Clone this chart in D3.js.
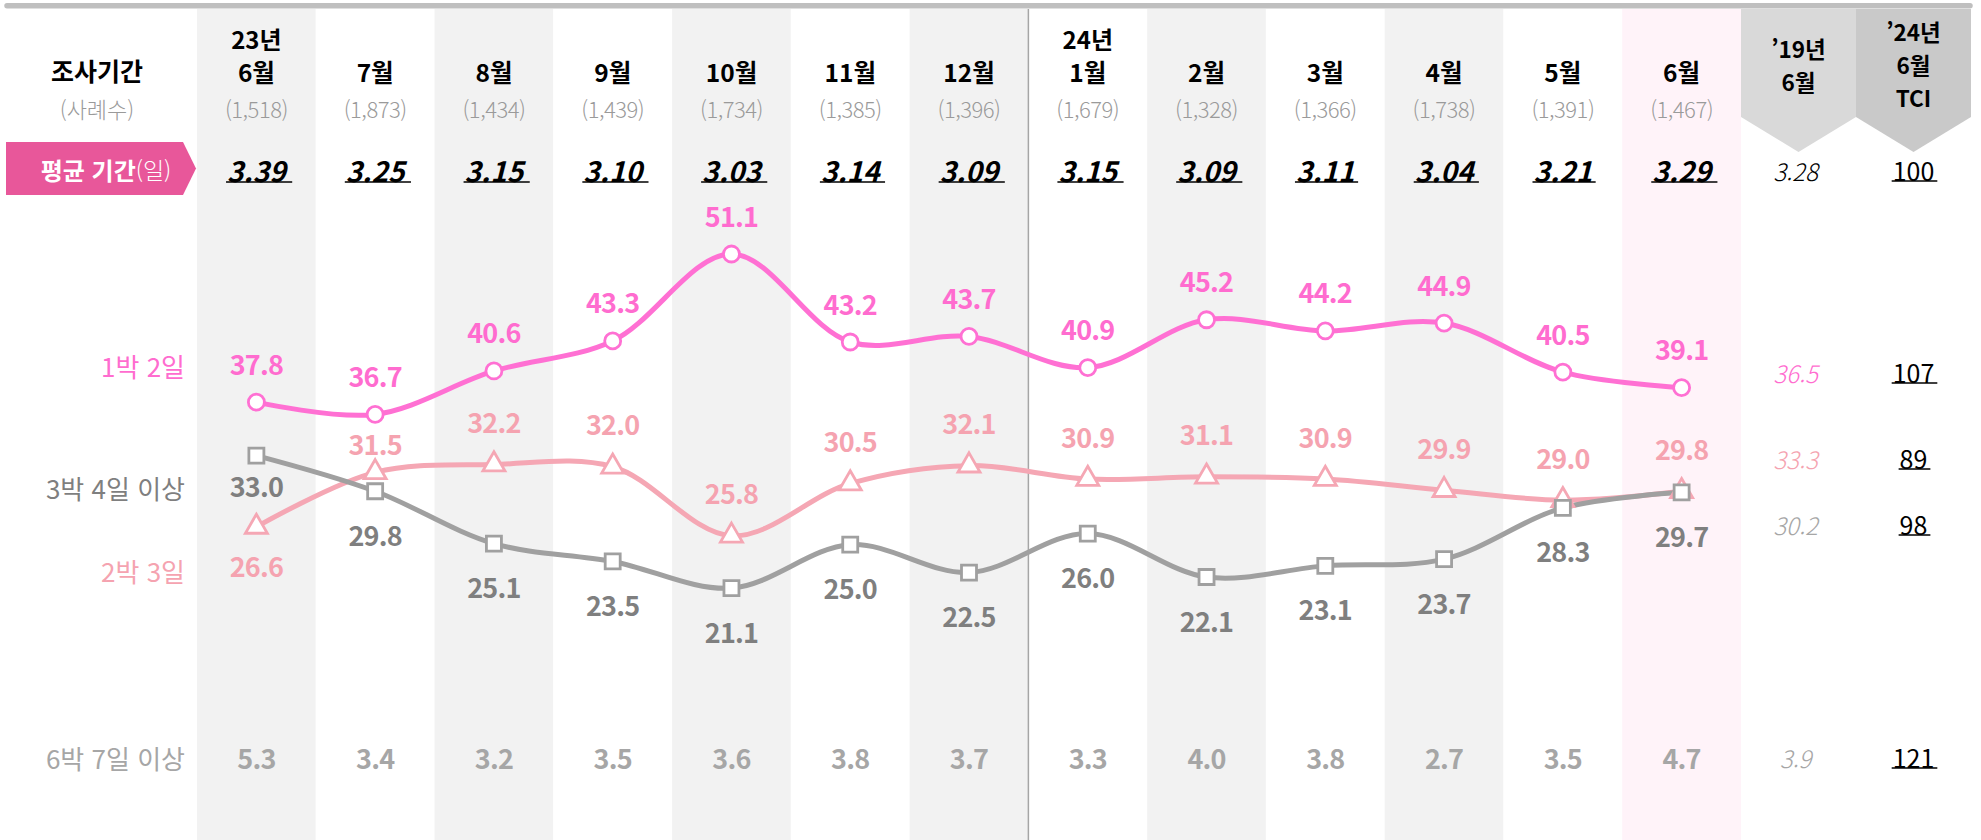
<!DOCTYPE html>
<html lang="ko">
<head>
<meta charset="utf-8">
<script src="https://cdn.jsdelivr.net/npm/d3@7"></script>
<style>
  html, body { margin: 0; padding: 0; background: #fff; }
  svg { display: block; }
  text { font-family: 'Noto Sans CJK KR', 'Noto Sans', sans-serif; }
</style>
</head>
<body>
<svg id="chart" width="1981" height="840"></svg>
<script>
// ---------------- DATA ----------------
const periodKeys   = ["2023-06","2023-07","2023-08","2023-09","2023-10","2023-11","2023-12","2024-01","2024-02","2024-03","2024-04","2024-05","2024-06"];
const yearLabels   = ["23년","","","","","","","24년","","","","",""];
const monthLabels  = ["6월","7월","8월","9월","10월","11월","12월","1월","2월","3월","4월","5월","6월"];
const sampleSizes  = ["1,518","1,873","1,434","1,439","1,734","1,385","1,396","1,679","1,328","1,366","1,738","1,391","1,467"];
const avgDays      = [3.39,3.25,3.15,3.10,3.03,3.14,3.09,3.15,3.09,3.11,3.04,3.21,3.29];

const seriesNames  = ["1박 2일","2박 3일","3박 4일 이상","6박 7일 이상"];
const trip1n2d     = [37.8,36.7,40.6,43.3,51.1,43.2,43.7,40.9,45.2,44.2,44.9,40.5,39.1];
const trip2n3d     = [26.6,31.5,32.2,32.0,25.8,30.5,32.1,30.9,31.1,30.9,29.9,29.0,29.8];
const trip3n4d     = [33.0,29.8,25.1,23.5,21.1,25.0,22.5,26.0,22.1,23.1,23.7,28.3,29.7];
const trip6n7d     = [5.3,3.4,3.2,3.5,3.6,3.8,3.7,3.3,4.0,3.8,2.7,3.5,4.7];

// comparison columns: [평균, 1박2일, 2박3일, 3박4일이상, 6박7일이상]
const ref2019Values = [3.28,36.5,33.3,30.2,3.9];
const tciValues     = [100,107,89,98,121];
const yAxisDomain   = [20,52];

// ---------------- LAYOUT / STYLE ----------------
const FONT = "'Noto Sans CJK KR', 'Noto Sans', sans-serif";
const C = {
  s1: "#ff6ccf", s1Line: "#ff70d3",
  s2: "#f5a3b0", s2Line: "#f5a7b4",
  s3: "#7f7f7f", s3Line: "#a0a0a0",
  s6: "#a6a6a6",
  colGray: "#f2f2f2", colPink: "#fff3f9",
  badge: "#e8579a"
};
const svg = d3.select("#chart");
const x = d3.scaleBand().domain(periodKeys).range([197, 1741]).padding(0);
const y = d3.scaleLinear().domain(yAxisDomain).range([600.4, 244]);
const cx = i => x(periodKeys[i]) + x.bandwidth() / 2;
const compCols = [{x0: 1741, x1: 1856, fill: "#d9d9d9"}, {x0: 1856, x1: 1971, fill: "#c9c9c9"}];
const rowY = {avg: 170, s1: 372, s2: 458, s3: 524, s6: 757};

// ---------------- BACKGROUND COLUMNS ----------------
svg.append("g").selectAll("rect").data(periodKeys).join("rect")
  .attr("x", d => x(d)).attr("y", 9)
  .attr("width", x.bandwidth()).attr("height", 840 - 9)
  .attr("fill", (d, i) => i === 12 ? C.colPink : (i % 2 === 0 ? C.colGray : "#ffffff"));

// divider between 2023 and 2024
svg.append("line")
  .attr("x1", x(periodKeys[7])).attr("x2", x(periodKeys[7]))
  .attr("y1", 9).attr("y2", 840)
  .attr("stroke", "#a6a6a6").attr("stroke-width", 1.5);

// top bar
svg.append("line").attr("x1", 7).attr("x2", 1970).attr("y1", 5.8).attr("y2", 5.8)
  .attr("stroke", "#bfbfbf").attr("stroke-width", 5.5).attr("stroke-linecap", "round");

// comparison chevrons
compCols.forEach(c => {
  const m = (c.x0 + c.x1) / 2;
  svg.append("polygon")
    .attr("points", [[c.x0, 9], [c.x1, 9], [c.x1, 117], [m, 152], [c.x0, 117]].map(p => p.join(",")).join(" "))
    .attr("fill", c.fill);
});

// ---------------- HEADER ----------------
const hdr = svg.append("g").attr("font-family", FONT);
hdr.append("text").attr("x", 97).attr("y", 70).attr("text-anchor", "middle").attr("dominant-baseline", "central")
  .attr("font-size", 25).attr("font-weight", 700).attr("fill", "#000").text("조사기간");
hdr.append("text").attr("x", 97).attr("y", 108).attr("text-anchor", "middle").attr("dominant-baseline", "central")
  .attr("font-size", 22).attr("font-weight", 300).attr("fill", "#9a9a9a").text("(사례수)");

periodKeys.forEach((k, i) => {
  if (yearLabels[i]) {
    hdr.append("text").attr("x", cx(i)).attr("y", 38).attr("text-anchor", "middle").attr("dominant-baseline", "central")
      .attr("font-size", 24).attr("font-weight", 700).attr("fill", "#000").text(yearLabels[i]);
  }
  hdr.append("text").attr("x", cx(i)).attr("y", 71).attr("text-anchor", "middle").attr("dominant-baseline", "central")
    .attr("font-size", 24.5).attr("font-weight", 700).attr("fill", "#000").text(monthLabels[i]);
  hdr.append("text").attr("x", cx(i)).attr("y", 108).attr("text-anchor", "middle").attr("dominant-baseline", "central")
    .attr("font-size", 22).attr("font-weight", 300).attr("letter-spacing", -0.5).attr("fill", "#9a9a9a").text("(" + sampleSizes[i] + ")");
});

// comparison headers
const c19 = (compCols[0].x0 + compCols[0].x1) / 2, cT = (compCols[1].x0 + compCols[1].x1) / 2;
[["’19년", 48], ["6월", 81]].forEach(([t, yy]) =>
  hdr.append("text").attr("x", c19).attr("y", yy).attr("text-anchor", "middle").attr("dominant-baseline", "central")
    .attr("font-size", 22.5).attr("font-weight", 700).attr("fill", "#000").text(t));
[["’24년", 31], ["6월", 64], ["TCI", 97]].forEach(([t, yy]) =>
  hdr.append("text").attr("x", cT).attr("y", yy).attr("text-anchor", "middle").attr("dominant-baseline", "central")
    .attr("font-size", 22.5).attr("font-weight", 700).attr("fill", "#000").text(t));

// ---------------- AVERAGE ROW ----------------
svg.append("polygon")
  .attr("points", [[6, 142], [183, 142], [196, 168.5], [183, 195], [6, 195]].map(p => p.join(",")).join(" "))
  .attr("fill", C.badge);
const badgeTxt = svg.append("text").attr("x", 106).attr("y", 169).attr("text-anchor", "middle")
  .attr("dominant-baseline", "central").attr("font-family", FONT).attr("fill", "#fff").attr("font-size", 24);
badgeTxt.append("tspan").attr("font-weight", 700).text("평균 기간");
badgeTxt.append("tspan").attr("font-weight", 300).attr("font-size", 23).text("(일)");

function underlined(g, xx, yy, txt, opts) {
  const t = g.append("text").attr("x", xx).attr("y", yy).attr("text-anchor", "middle")
    .attr("dominant-baseline", "central").attr("font-family", FONT)
    .attr("font-size", opts.size).attr("font-weight", opts.weight)
    .attr("font-style", opts.italic ? "italic" : "normal").attr("fill", opts.fill || "#000").text(txt);
  const b = t.node().getBBox();
  g.append("line").attr("x1", b.x - 1).attr("x2", b.x + b.width + 3)
    .attr("y1", yy + opts.uy).attr("y2", yy + opts.uy)
    .attr("stroke", "#000").attr("stroke-width", 1.6);
  return t;
}
const avgG = svg.append("g");
avgDays.forEach((v, i) => underlined(avgG, cx(i), rowY.avg, d3.format(".2f")(v), {size: 28, weight: 700, italic: true, uy: 12}));

// ---------------- SERIES ----------------
const line = d3.line().x((d, i) => cx(i)).y(d => y(d)).curve(d3.curveCatmullRom.alpha(0.5));
const gLines = svg.append("g").attr("fill", "none").attr("stroke-width", 5).attr("stroke-linecap", "round");
gLines.append("path").attr("d", line(trip1n2d)).attr("stroke", C.s1Line);
gLines.append("path").attr("d", line(trip2n3d)).attr("stroke", C.s2Line);
gLines.append("path").attr("d", line(trip3n4d)).attr("stroke", C.s3Line);

// markers
svg.append("g").selectAll("circle").data(trip1n2d).join("circle")
  .attr("cx", (d, i) => cx(i)).attr("cy", d => y(d)).attr("r", 8)
  .attr("fill", "#fff").attr("stroke", C.s1Line).attr("stroke-width", 2.8);
svg.append("g").selectAll("path").data(trip2n3d).join("path")
  .attr("transform", (d, i) => `translate(${cx(i)},${y(d)})`)
  .attr("d", d3.symbol(d3.symbolTriangle, 210)())
  .attr("fill", "#fff").attr("stroke", C.s2Line).attr("stroke-width", 2.8);
svg.append("g").selectAll("path").data(trip3n4d).join("path")
  .attr("transform", (d, i) => `translate(${cx(i)},${y(d)})`)
  .attr("d", d3.symbol(d3.symbolSquare, 225)())
  .attr("fill", "#fff").attr("stroke", C.s3Line).attr("stroke-width", 2.8);

// value labels (offset in px from the marker: negative = above)
const labelOffsets = {
  s1: trip1n2d.map(() => -39),
  s2: trip2n3d.map((d, i) => i === 0 ? 39 : (i === 1 ? -29 : -43)),
  s3: trip3n4d.map((d, i) => i === 0 ? 30 : 43)
};
function valueLabels(data, offs, color) {
  svg.append("g").selectAll("text").data(data).join("text")
    .attr("x", (d, i) => cx(i)).attr("y", (d, i) => y(d) + offs[i])
    .attr("text-anchor", "middle").attr("dominant-baseline", "central")
    .attr("font-family", FONT).attr("font-size", 27).attr("font-weight", 700).attr("letter-spacing", -0.8)
    .attr("fill", color).text(d => d3.format(".1f")(d));
}
valueLabels(trip1n2d, labelOffsets.s1, C.s1);
valueLabels(trip2n3d, labelOffsets.s2, C.s2);
valueLabels(trip3n4d, labelOffsets.s3, C.s3);

// 6박 7일 이상 row
svg.append("g").selectAll("text").data(trip6n7d).join("text")
  .attr("x", (d, i) => cx(i)).attr("y", rowY.s6)
  .attr("text-anchor", "middle").attr("dominant-baseline", "central")
  .attr("font-family", FONT).attr("font-size", 27).attr("font-weight", 700).attr("letter-spacing", -0.8)
  .attr("fill", C.s6).text(d => d3.format(".1f")(d));

// row labels
const rowLabelY = [365, 570, 487, 757];
const rowLabelColors = [C.s1, C.s2, C.s3, C.s6];
svg.append("g").selectAll("text").data(seriesNames).join("text")
  .attr("x", 185).attr("y", (d, i) => rowLabelY[i])
  .attr("text-anchor", "end").attr("dominant-baseline", "central")
  .attr("font-family", FONT).attr("font-size", 26).attr("font-weight", 400)
  .attr("fill", (d, i) => rowLabelColors[i]).text(d => d);

// ---------------- COMPARISON COLUMNS ----------------
const compY = [rowY.avg, rowY.s1, rowY.s2, rowY.s3, rowY.s6];
const refColors = ["#000", C.s1, C.s2, C.s6, C.s6];
svg.append("g").selectAll("text").data(ref2019Values).join("text")
  .attr("x", c19 - 3).attr("y", (d, i) => compY[i])
  .attr("text-anchor", "middle").attr("dominant-baseline", "central")
  .attr("font-family", FONT).attr("font-size", 24).attr("font-weight", 300).attr("font-style", "italic")
  .attr("fill", (d, i) => refColors[i]).text((d, i) => i === 0 ? d3.format(".2f")(d) : d3.format(".1f")(d));
const tciG = svg.append("g");
tciValues.forEach((v, i) => underlined(tciG, cT, compY[i], String(v), {size: 25, weight: 400, italic: false, uy: 11}));
</script>
</body>
</html>
